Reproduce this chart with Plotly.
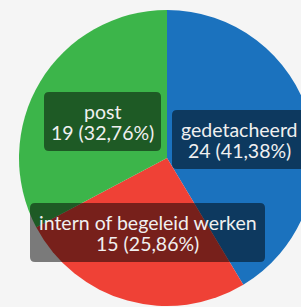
import plotly.graph_objects as go

labels = ["gedetacheerd", "intern of begeleid werken", "post"]
values = [24, 15, 19]
colors = ["#1b72be", "#ef4136", "#3cb54a"]

# label boxes in window pixels (layout only): x0, y0, x1, y1
label_boxes = [(172, 110, 306, 169), (30, 203, 265, 262), (44, 92, 161, 151)]

W, H = 330, 330
cx, cy, r = 167, 158, 148

total = sum(values)

fig = go.Figure(go.Pie(
    labels=labels, values=values, sort=False, direction="clockwise", rotation=0,
    marker=dict(colors=colors, line=dict(width=0)),
    textinfo="none", hoverinfo="label+value+percent", showlegend=False,
    domain=dict(x=[(cx - r) / W, (cx + r) / W], y=[1 - (cy + r) / H, 1 - (cy - r) / H]),
))


def px(x):
    return x / W


def py(y):
    return 1 - y / H


def rounded(x0, y0, x1, y1, rad=5):
    return (f"M {px(x0 + rad)} {py(y0)} L {px(x1 - rad)} {py(y0)} "
            f"Q {px(x1)} {py(y0)} {px(x1)} {py(y0 + rad)} L {px(x1)} {py(y1 - rad)} "
            f"Q {px(x1)} {py(y1)} {px(x1 - rad)} {py(y1)} L {px(x0 + rad)} {py(y1)} "
            f"Q {px(x0)} {py(y1)} {px(x0)} {py(y1 - rad)} L {px(x0)} {py(y0 + rad)} "
            f"Q {px(x0)} {py(y0)} {px(x0 + rad)} {py(y0)} Z")


for lab, v, (x0, y0, x1, y1) in zip(labels, values, label_boxes):
    pct = f"{v / total * 100:.2f}".replace(".", ",")
    fig.add_shape(type="path", xref="paper", yref="paper", path=rounded(x0, y0, x1, y1),
                  fillcolor="rgba(0,0,0,0.5)", line=dict(width=0), layer="above")
    mx = (x0 + x1) / 2
    if x1 > 301:
        mx = 239
    my = (y0 + y1) / 2
    for line, dy in ((lab, -10.5), (f"{v} ({pct}%)", 10.5)):
        fig.add_annotation(
            x=px(mx), y=py(my + dy), xref="paper", yref="paper",
            xanchor="center", yanchor="middle", showarrow=False,
            text=line, font=dict(family="Lato", size=19.5, color="#f0f0f0"),
        )

fig.update_layout(
    width=W, height=H, margin=dict(l=0, r=0, t=0, b=0),
    paper_bgcolor="#f5f5f5", plot_bgcolor="#f5f5f5",
)

fig.write_html("out.html", config={"displayModeBar": False},
               post_script="document.body.style.margin='0';document.body.style.overflow='hidden';document.documentElement.style.overflow='hidden';")
